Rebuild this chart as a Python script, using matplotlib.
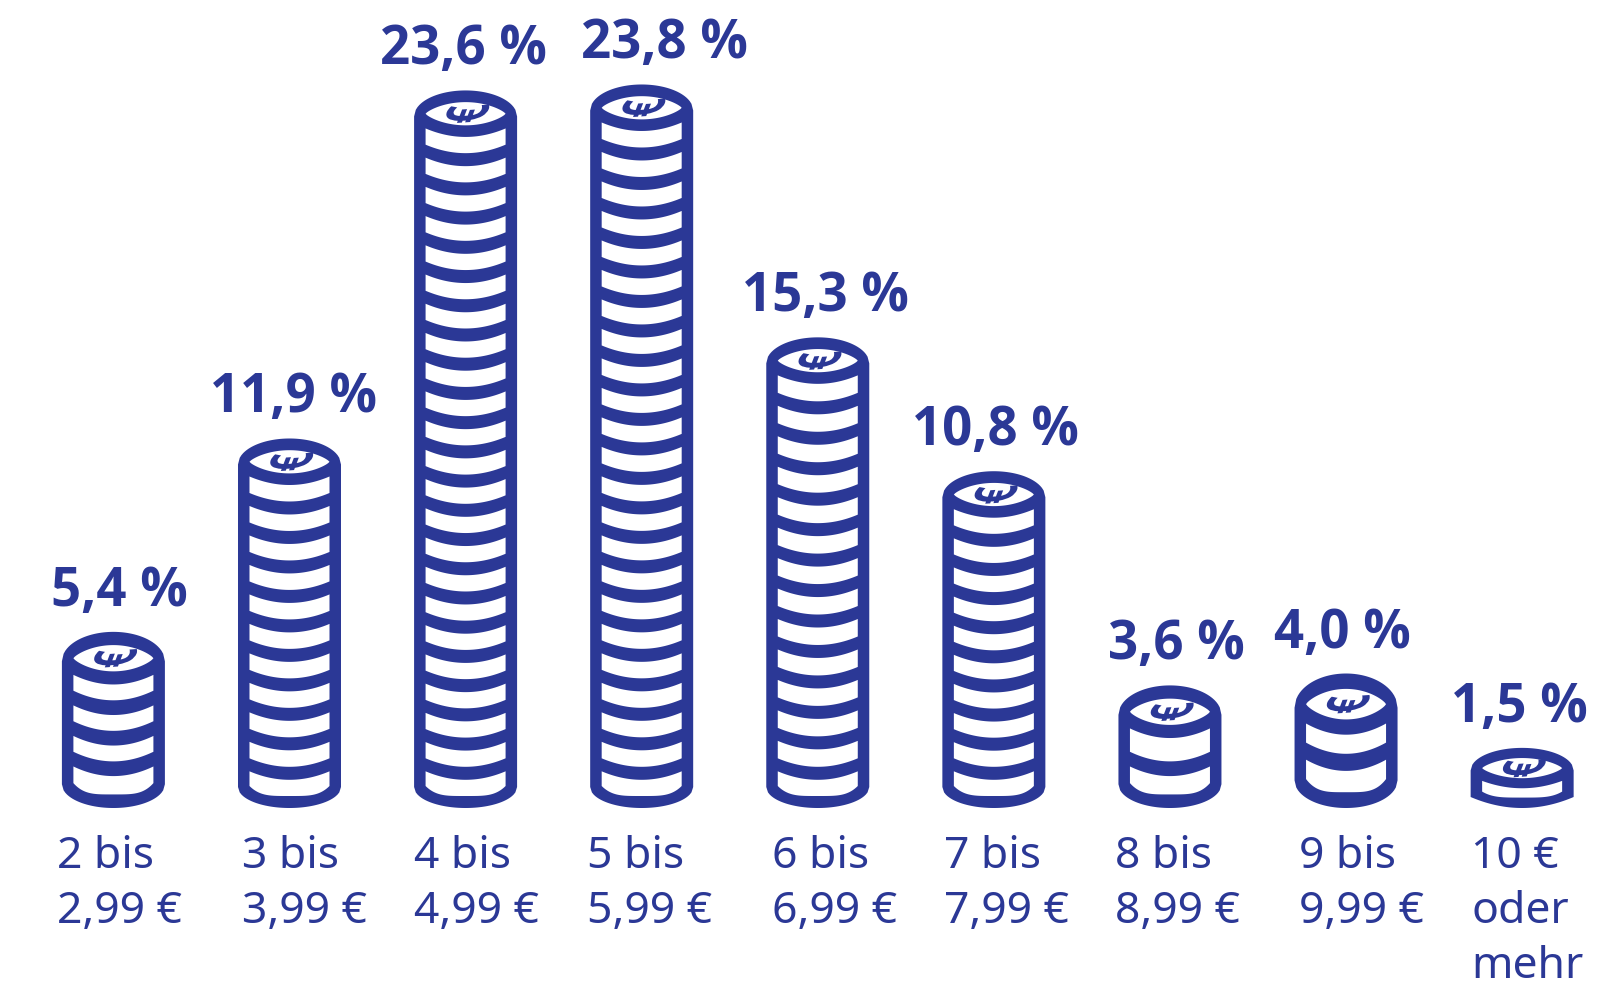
import numpy as np
import matplotlib
matplotlib.use('Agg')
import matplotlib.pyplot as plt
from matplotlib.patches import PathPatch
from matplotlib.path import Path
from matplotlib.textpath import TextPath
from matplotlib.font_manager import FontProperties
from matplotlib.transforms import Affine2D

blue = '#2b3896'

shares = [5.4, 11.9, 23.6, 23.8, 15.3, 10.8, 3.6, 4.0, 1.5]
shareLabels = ['5,4 %', '11,9 %', '23,6 %', '23,8 %', '15,3 %', '10,8 %', '3,6 %', '4,0 %', '1,5 %']
coinCounts = [4, 11, 23, 23, 14, 10, 2, 2, 1]
priceLabels = [
    ['2 bis', '2,99 €'],
    ['3 bis', '3,99 €'],
    ['4 bis', '4,99 €'],
    ['5 bis', '5,99 €'],
    ['6 bis', '6,99 €'],
    ['7 bis', '7,99 €'],
    ['8 bis', '8,99 €'],
    ['9 bis', '9,99 €'],
    ['10 €', 'oder', 'mehr'],
]

# label nudges and lid size per stack, in pixels
shareDx = [6, 4, -2, 23, 8, 2, 6, -4, -3]
priceDx = [-56, -47, -52, -55, -46, -50, -55, -47, -51]
capDepth = [43, 38, 38, 38, 38, 38, 43, 50, 33]

fig = plt.figure(figsize=(16.13, 9.82), dpi=100)
ax = fig.add_axes([0, 0, 1, 1])
ax.set_xlim(-0.644, 8.516)
ax.set_ylim(-6.37, 26.64)
ax.axis('off')

euroFont = FontProperties(family='Open Sans', weight='bold')
euro = TextPath((0, 0), '€', size=10, prop=euroFont)
euroBox = euro.get_extents()


def fillPoly(xs, ys, tf, color):
    verts = np.column_stack([xs, ys])
    verts = np.vstack([verts, verts[0]])
    codes = [Path.MOVETO] + [Path.LINETO] * (len(xs) - 1) + [Path.CLOSEPOLY]
    ax.add_patch(PathPatch(Path(verts, codes), facecolor=color, edgecolor='none', lw=0, transform=tf))


def drawStack(i, value, n, cap):
    # pixel origin is the top centre of the stack, y grows downward from there
    px, py = ax.transData.transform((i, value))
    _, py0 = ax.transData.transform((i, 0))
    tf = Affine2D().scale(1, -1).translate(px, py)
    height = py - py0 + 15.5
    k = cap / 38
    u = np.linspace(-1, 1, 61)
    outerW = 51.5
    innerW = 40

    # blue silhouette
    topY = 26 * k * (1 - np.sqrt(1 - u ** 2))
    if n > 1:
        foot = 21 * k
        botY = height - foot + foot * np.sqrt(1 - u ** 2)
    else:
        foot = 11
        botY = height - foot + foot * (1 - u ** 2)
    xs = np.concatenate([outerW * u, outerW * u[::-1]])
    ys = np.concatenate([topY, botY[::-1]])
    fillPoly(xs, ys, tf, blue)

    # white lid
    lidTop = 11.7 * k
    lidHalf = 11.6 * k
    lidMid = lidTop + lidHalf
    bulge = (1 - u ** 2) ** 0.8
    xs = np.concatenate([innerW * u, innerW * u[::-1]])
    ys = np.concatenate([lidMid - lidHalf * bulge, lidMid + lidHalf * bulge[::-1]])
    fillPoly(xs, ys, tf, 'white')

    # white coin edges
    sag = 8.5 * k
    gap = 13 * k
    bottomEdge = height - 12 * k
    if n > 1:
        pitch = (height - cap - 36.7 * k) / (n - 1)
    else:
        pitch = 0
    for c in range(n):
        sideTop = cap + c * pitch
        upper = sideTop + sag * (1 - u ** 2)
        if c < n - 1:
            lower = sideTop + pitch - gap + sag * (1 - u ** 2)
        else:
            lastSag = 6 if n == 1 else 10 * k
            lower = bottomEdge - lastSag + lastSag * (1 - u ** 4)
        xs = np.concatenate([innerW * u, innerW * u[::-1]])
        ys = np.concatenate([upper, lower[::-1]])
        fillPoly(xs, ys, tf, 'white')

    # euro sign lying on the lid
    place = (Affine2D()
             .translate(-euroBox.x0 - euroBox.width / 2, -euroBox.y0 - euroBox.height / 2)
             .rotate_deg(90)
             .scale(42 / euroBox.height, 17 / euroBox.width)
             .skew_deg(25, 0)
             .rotate_deg(4)
             .translate(px + 1, py - lidMid))
    ax.add_patch(PathPatch(euro, facecolor=blue, edgecolor='none', lw=0, transform=place))


for i in range(len(shares)):
    drawStack(i, shares[i], coinCounts[i], capDepth[i])
    ax.annotate(shareLabels[i], xy=(i, shares[i]), xytext=(shareDx[i], 26),
                textcoords='offset pixels', ha='center', va='baseline',
                color=blue, fontproperties=FontProperties(family='Open Sans', weight='bold', size=38))
    for j, line in enumerate(priceLabels[i]):
        ax.annotate(line, xy=(i, 0), xytext=(priceDx[i], -75.5 - 55 * j),
                    textcoords='offset pixels', ha='left', va='baseline',
                    color=blue, fontproperties=FontProperties(family='Noto Sans', size=32))

fig.savefig('out.png', dpi=100)
